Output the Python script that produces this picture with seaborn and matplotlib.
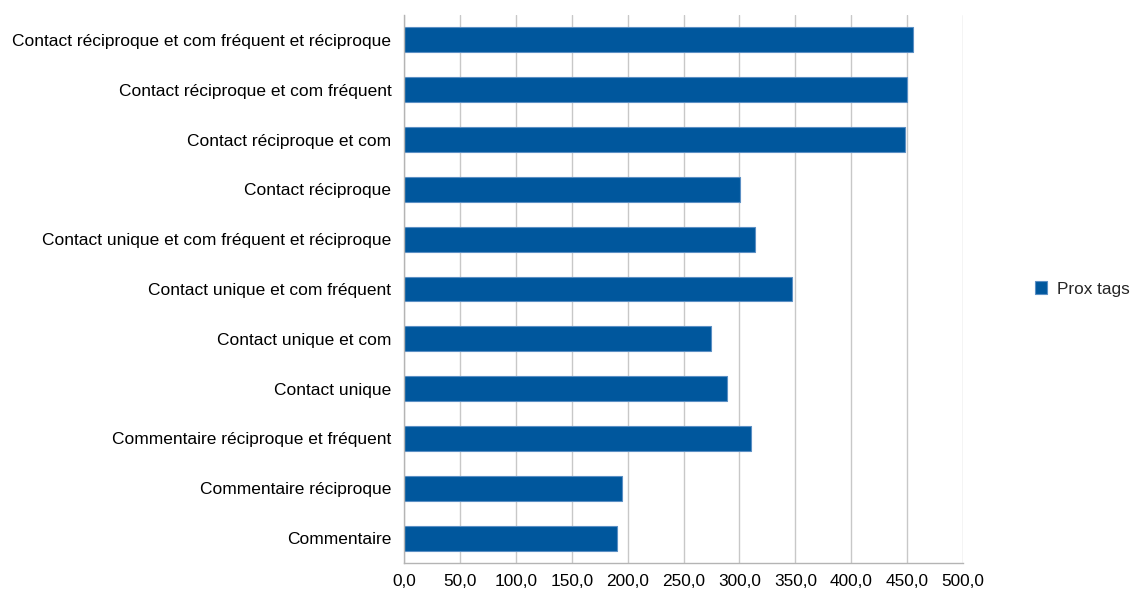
import matplotlib
matplotlib.use('Agg')
import matplotlib.pyplot as plt
from matplotlib.ticker import FuncFormatter, MultipleLocator
import seaborn as sns
import pandas as pd

categories = [
    'Contact réciproque et com fréquent et réciproque',
    'Contact réciproque et com fréquent',
    'Contact réciproque et com',
    'Contact réciproque',
    'Contact unique et com fréquent et réciproque',
    'Contact unique et com fréquent',
    'Contact unique et com',
    'Contact unique',
    'Commentaire réciproque et fréquent',
    'Commentaire réciproque',
    'Commentaire',
]
prox_tags = [455.4, 449.8, 448.5, 300.3, 314.0, 346.9, 274.3, 289.3, 310.7, 194.8, 190.9]
series_name = 'Prox tags'

df = pd.DataFrame({'Categorie': categories, 'Valeur': prox_tags, 'Serie': series_name})

sns.set_style('white')
plt.rcParams['font.family'] = ['Liberation Sans', 'DejaVu Sans']

fig = plt.figure(figsize=(11.3, 5.9), dpi=100)
ax = fig.add_axes([404 / 1130, 1 - 563 / 590, (963 - 404) / 1130, (563 - 15) / 590])

sns.barplot(data=df, y='Categorie', x='Valeur', hue='Serie', orient='h',
            palette=['#00579d'], saturation=1, edgecolor='#5b8fc4', linewidth=0.8,
            width=0.5, ax=ax, legend=True)

ax.set_xlim(0, 500)
ax.xaxis.set_major_locator(MultipleLocator(50))
ax.xaxis.set_major_formatter(FuncFormatter(lambda v, p: f'{v:.1f}'.replace('.', ',')))
ax.set_xlabel('')
ax.set_ylabel('')
ax.xaxis.grid(True, color='#c8c8c8', linewidth=1)
ax.set_axisbelow(True)
for s in ['top', 'right']:
    ax.spines[s].set_visible(False)
for s in ['left', 'bottom']:
    ax.spines[s].set_color('#b4b4b4')
    ax.spines[s].set_linewidth(1)

# ticks between categories on the y axis
ax.set_yticks([i - 0.5 for i in range(len(categories) + 1)], minor=True)
ax.tick_params(axis='y', which='minor', length=5, color='#b4b4b4', width=1)
ax.tick_params(axis='y', which='major', length=0, pad=9, labelsize=12.5)
ax.tick_params(axis='x', which='major', length=5, color='#b4b4b4', width=1, labelsize=12.4, pad=3)
for lab in ax.get_yticklabels() + ax.get_xticklabels():
    lab.set_color('black')

leg = ax.legend(loc='center left', bbox_to_anchor=(1.128, 0.5), frameon=False,
                fontsize=12.4, handlelength=0.7, handleheight=0.7, handletextpad=0.6,
                borderaxespad=0, borderpad=0)

fig.savefig('out.png', dpi=100)
